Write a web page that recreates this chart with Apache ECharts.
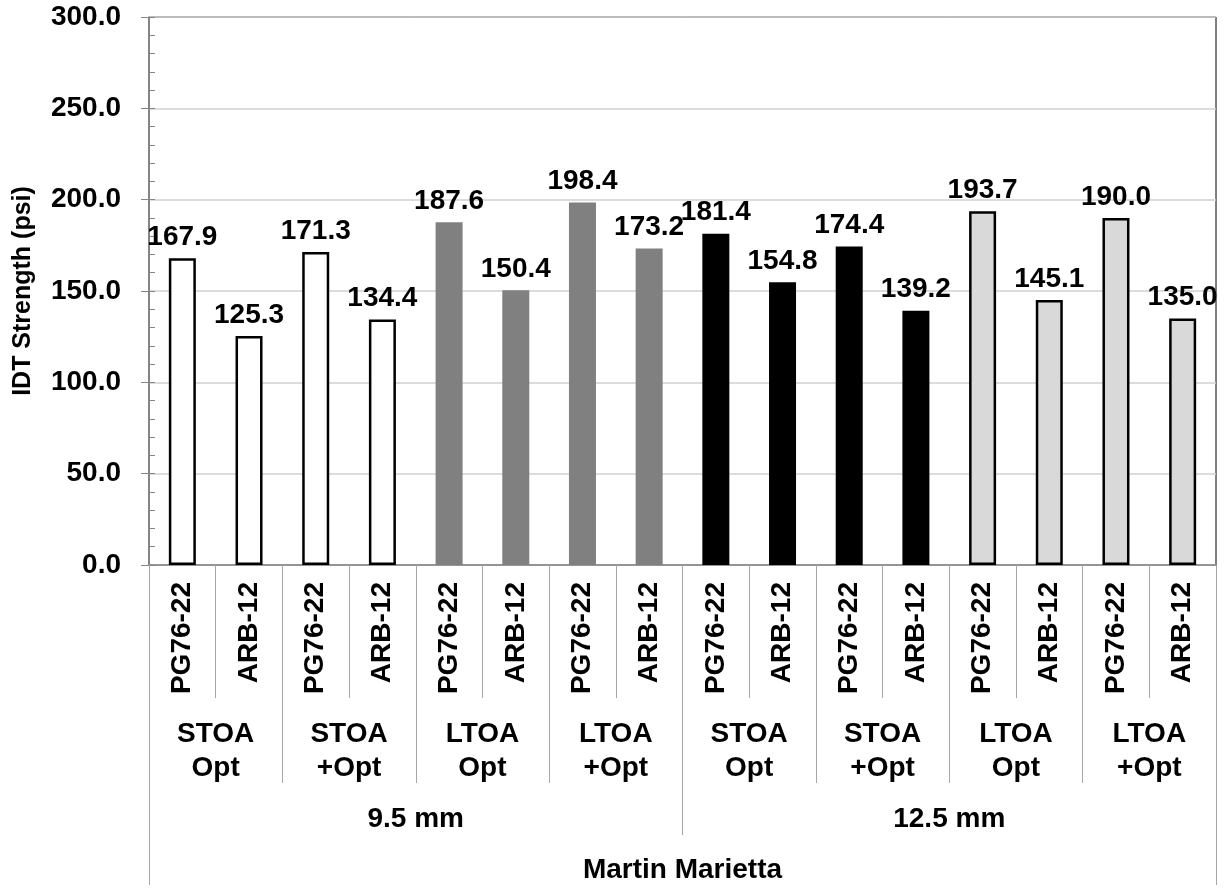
<!DOCTYPE html>
<html>
<head>
<meta charset="utf-8">
<script src="https://cdn.jsdelivr.net/npm/echarts@6/dist/echarts.min.js"></script>
<style>
html,body{margin:0;padding:0;background:#fff;}
#chart{width:1228px;height:888px;}
</style>
</head>
<body>
<div id="chart"></div>
<script>
// ---- data ----
const binders = ['PG76-22','ARB-12','PG76-22','ARB-12','PG76-22','ARB-12','PG76-22','ARB-12',
                 'PG76-22','ARB-12','PG76-22','ARB-12','PG76-22','ARB-12','PG76-22','ARB-12'];
const conditions = ['STOA\nOpt','STOA\n+Opt','LTOA\nOpt','LTOA\n+Opt','STOA\nOpt','STOA\n+Opt','LTOA\nOpt','LTOA\n+Opt'];
const sizes = ['9.5 mm','12.5 mm'];
const source = ['Martin Marietta'];
const idtValues = [167.9,125.3,171.3,134.4,187.6,150.4,198.4,173.2,181.4,154.8,174.4,139.2,193.7,145.1,190.0,135.0];
const yTicks = [0,50,100,150,200,250,300];

// ---- styles ----
const FONT = "'Liberation Sans', Arial, sans-serif";
const groupStyles = [
  {color:'#ffffff', borderColor:'#000', borderWidth:2.5},
  {color:'#808080', borderColor:'#808080', borderWidth:0},
  {color:'#000000', borderColor:'#000', borderWidth:0},
  {color:'#d9d9d9', borderColor:'#000', borderWidth:2.5}
];
const seriesData = idtValues.map((v,i)=>({value:v, itemStyle:groupStyles[Math.floor(i/4)]}));

const sepColor = '#a6a6a6';
function levelAxis(data, tickLen, labelMargin, fontSize, lineHeight){
  return {
    type:'category', data:data, gridIndex:0, position:'bottom', offset:0,
    axisLine:{show:false},
    axisTick:{show:true, length:tickLen, lineStyle:{color:sepColor, width:1}},
    axisLabel:{show:true, interval:0, margin:labelMargin,
      fontFamily:FONT, fontWeight:'bold', fontSize:fontSize, color:'#000', lineHeight:lineHeight},
    splitLine:{show:false}
  };
}

const chart = echarts.init(document.getElementById('chart'), null, {renderer:'canvas'});
const option = {
  animation:false,
  backgroundColor:'#fff',
  grid:{left:149, right:12, top:17, bottom:323, show:true, borderColor:'#000', borderWidth:1, backgroundColor:'transparent'},
  xAxis:[
    {
      type:'category', data:binders, gridIndex:0, position:'bottom',
      axisLine:{show:true, lineStyle:{color:'#868686', width:1.5}},
      axisTick:{show:true, length:133, lineStyle:{color:sepColor, width:1}},
      axisLabel:{interval:0, rotate:90, margin:17, fontFamily:FONT, fontWeight:'bold', fontSize:28, color:'#000'},
      splitLine:{show:false}
    },
    levelAxis(conditions, 218, 152, 28, 34),
    levelAxis(sizes, 270, 239, 28, 30),
    levelAxis(source, 320, 290, 28, 30)
  ],
  yAxis:[
    {
      type:'value', min:0, max:300, interval:50, position:'left',
      name:'IDT Strength (psi)', nameLocation:'middle', nameGap:113, nameRotate:90,
      nameTextStyle:{fontFamily:FONT, fontWeight:'bold', fontSize:25, color:'#000'},
      axisLine:{show:true, lineStyle:{color:'#868686', width:1.5}},
      axisTick:{show:true, length:8, inside:false, lineStyle:{color:'#868686'}},
      axisLabel:{margin:28, fontFamily:FONT, fontWeight:'bold', fontSize:28, color:'#000',
        formatter:(v)=>yTicks.indexOf(v)>=0 ? v.toFixed(1) : ''},
      splitLine:{show:true, lineStyle:{color:'#d0d0d0', width:1.5}}
    },
    {
      type:'value', min:0, max:300, interval:10, position:'left', offset:0,
      axisLine:{show:false},
      axisTick:{show:true, length:6, inside:true, lineStyle:{color:'#868686'}},
      axisLabel:{show:false},
      splitLine:{show:false}
    }
  ],
  series:[{
    type:'bar', xAxisIndex:0, yAxisIndex:0, barWidth:27,
    data:seriesData,
    label:{show:true, position:'top', distance:7, fontFamily:FONT, fontWeight:'bold', fontSize:28, color:'#000',
      formatter:(p)=>p.value.toFixed(1)}
  }]
};
chart.setOption(option);
</script>
</body>
</html>
